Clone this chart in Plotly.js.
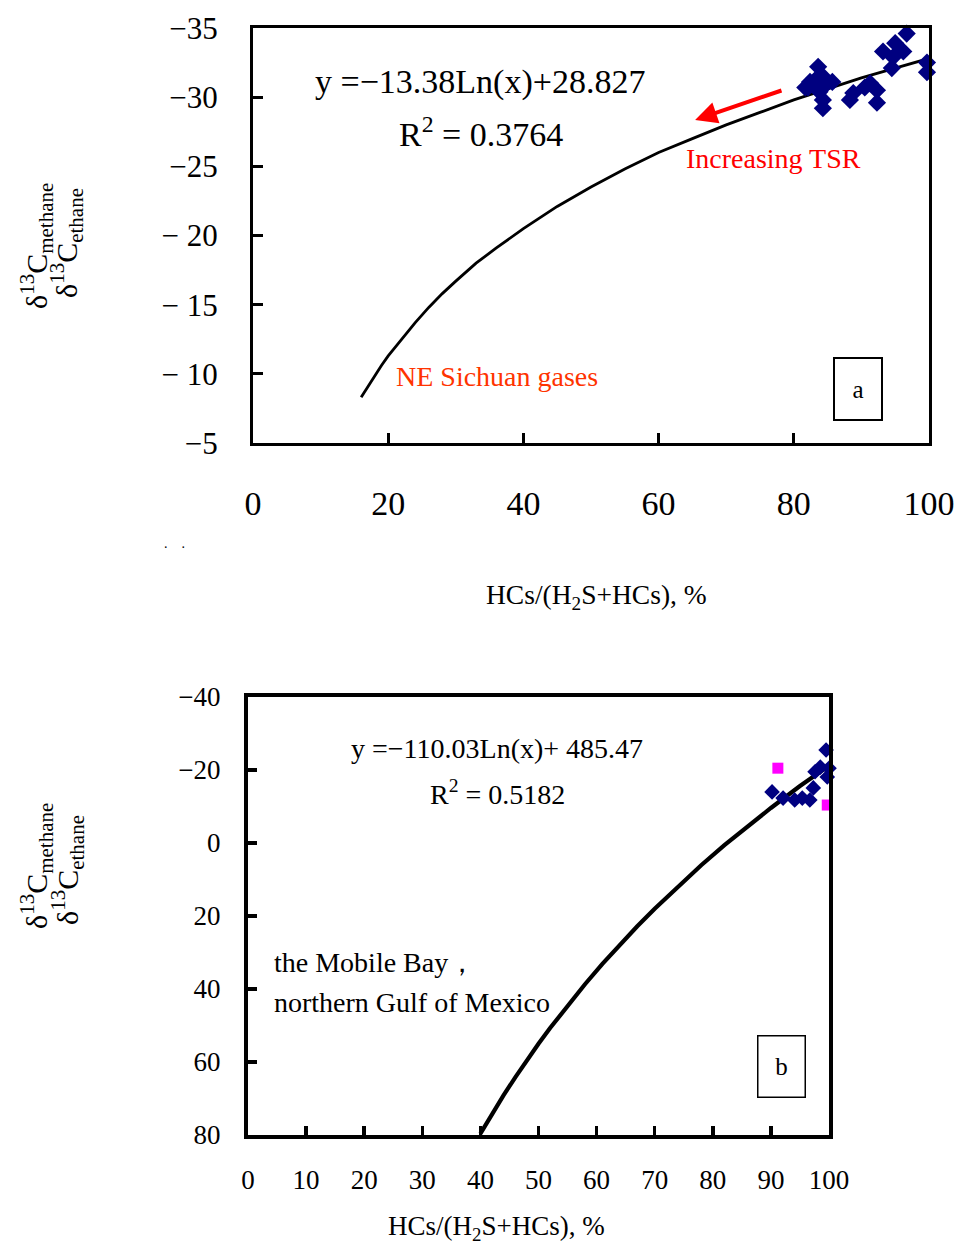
<!DOCTYPE html>
<html>
<head>
<meta charset="utf-8">
<script src="https://cdn.plot.ly/plotly-3.0.1.min.js"></script>
<style>html,body{margin:0;padding:0;background:#fff;}#chart{width:963px;height:1247px;}</style>
</head>
<body>
<div id="chart"></div>
<script>
// ---- Panel a: NE Sichuan gases ----
const aPointsX = [81.7, 82.1, 82.4, 83.1, 83.6, 83.8, 84.3, 84.3, 84.3, 84.3, 85.7, 88.3, 88.8, 90.5, 91.3, 92.3, 92.3, 93.2, 94.5, 94.7, 95.0, 96.2, 96.7, 99.7, 99.7];
const aPointsY = [-30.7, -30.7, -31.1, -31.2, -32.2, -30.4, -31.5, -30.7, -29.8, -29.2, -31.1, -29.8, -30.3, -30.7, -31.0, -30.5, -29.6, -33.3, -32.1, -32.9, -33.9, -33.3, -34.6, -32.5, -31.8];
const aCurveX = [16, 17, 18, 19, 20, 22, 24, 26, 28, 30, 33, 36, 40, 45, 50, 55, 60, 65, 70, 75, 80, 85, 90, 95, 100];
const aCurveY = [-8.3, -9.1, -9.9, -10.6, -11.3, -12.5, -13.7, -14.8, -15.8, -16.7, -18.0, -19.1, -20.5, -22.1, -23.5, -24.8, -26.0, -27.0, -28.0, -28.9, -29.8, -30.6, -31.4, -32.1, -32.8];
const aYTickVals = [-35, -30, -25, -20, -15, -10, -5];
const aYTickText = ["\u221235", "\u221230", "\u221225", "\u2212 20", "\u2212 15", "\u2212 10", "\u22125"];
const aXTickVals = [0, 20, 40, 60, 80, 100];

// ---- Panel b: Mobile Bay, northern Gulf of Mexico ----
const bBlueX = [90.2, 92.1, 94.1, 95.4, 96.7, 97.3, 97.6, 98.5, 99.5, 99.7, 100];
const bBlueY = [-14.0, -12.3, -11.8, -12.3, -11.8, -15.1, -19.5, -20.8, -25.5, -18.1, -20.5];
const bPinkX = [91.2, 99.7];
const bPinkY = [-20.5, -10.4];
const bCurveX = [40, 42, 44, 46, 48, 50, 52, 55, 58, 61, 64, 67, 70, 74, 78, 82, 86, 90, 95, 100];
const bCurveY = [79.6, 74.2, 69.1, 64.2, 59.5, 55.0, 50.7, 44.5, 38.7, 33.1, 27.9, 22.8, 18.0, 11.9, 6.1, 0.6, -4.6, -9.6, -15.6, -21.2];
const bYTickVals = [-40, -20, 0, 20, 40, 60, 80];
const bYTickText = ["\u221240", "\u221220", "0", "20", "40", "60", "80"];
const bXTickVals = [0, 10, 20, 30, 40, 50, 60, 70, 80, 90, 100];

const W = 963, H = 1247;
const px = v => v / W;
const py = v => 1 - v / H;
const serif = "Liberation Serif";

const traces = [
  {x: aCurveX, y: aCurveY, xaxis: 'x', yaxis: 'y', mode: 'lines', line: {color: '#000', width: 2.8}, hoverinfo: 'skip'},
  {x: aPointsX, y: aPointsY, xaxis: 'x', yaxis: 'y', mode: 'markers', cliponaxis: false,
   marker: {symbol: 'diamond', size: 14, color: '#000080'}},
  {x: bCurveX, y: bCurveY, xaxis: 'x2', yaxis: 'y2', mode: 'lines', line: {color: '#000', width: 4.2}, hoverinfo: 'skip'},
  {x: bBlueX, y: bBlueY, xaxis: 'x2', yaxis: 'y2', mode: 'markers', cliponaxis: false,
   marker: {symbol: 'diamond', size: 12, color: '#000080'}},
  {x: bPinkX, y: bPinkY, xaxis: 'x2', yaxis: 'y2', mode: 'markers', cliponaxis: false,
   marker: {symbol: 'square', size: 11, color: '#ff00ff'}}
];

const axisCommon = {showgrid: false, zeroline: false, showline: true, mirror: true, linecolor: '#000',
  ticks: 'inside', tickcolor: '#000', fixedrange: true};

const layout = {
  width: W, height: H, showlegend: false,
  margin: {l: 0, r: 0, t: 0, b: 0},
  paper_bgcolor: '#fff', plot_bgcolor: '#fff',
  font: {family: serif, color: '#000'},
  xaxis: Object.assign({}, axisCommon, {domain: [px(253), px(929)], range: [0, 100], anchor: 'y',
    tickvals: aXTickVals, linewidth: 3, tickwidth: 3, ticklen: 10,
    tickfont: {family: serif, size: 34}, ticklabelstandoff: 28}),
  yaxis: Object.assign({}, axisCommon, {domain: [py(443), py(28)], range: [-5, -35], anchor: 'x',
    tickvals: aYTickVals, ticktext: aYTickText, linewidth: 3, tickwidth: 3, ticklen: 10,
    tickfont: {family: serif, size: 31}, ticklabelstandoff: 26}),
  xaxis2: Object.assign({}, axisCommon, {domain: [px(248), px(829)], range: [0, 100], anchor: 'y2',
    tickvals: bXTickVals, linewidth: 4, tickwidth: 3.5, ticklen: 9,
    tickfont: {family: serif, size: 27}, ticklabelstandoff: 18}),
  yaxis2: Object.assign({}, axisCommon, {domain: [py(1135), py(697)], range: [80, -40], anchor: 'x2',
    tickvals: bYTickVals, ticktext: bYTickText, linewidth: 4, tickwidth: 3.5, ticklen: 9,
    tickfont: {family: serif, size: 27}, ticklabelstandoff: 18}),
  annotations: [
    // panel a texts
    {xref: 'paper', yref: 'paper', x: px(480), y: py(82), text: 'y =\u221213.38Ln(x)+28.827', showarrow: false,
     font: {family: serif, size: 34}, xanchor: 'center', yanchor: 'middle'},
    {xref: 'paper', yref: 'paper', x: px(481), y: py(132), text: 'R<sup>2</sup> = 0.3764', showarrow: false,
     font: {family: serif, size: 34}, xanchor: 'center', yanchor: 'middle'},
    {xref: 'paper', yref: 'paper', x: px(684), y: py(158), text: 'Increasing TSR', showarrow: false,
     font: {family: serif, size: 28, color: '#ff0000'}, xanchor: 'left', yanchor: 'middle'},
    {xref: 'paper', yref: 'paper', x: px(394), y: py(376), text: 'NE Sichuan gases', showarrow: false,
     font: {family: serif, size: 28, color: '#ff3300'}, xanchor: 'left', yanchor: 'middle'},
    {xref: 'paper', yref: 'paper', x: px(858), y: py(389), text: 'a', showarrow: false,
     font: {family: serif, size: 25}, xanchor: 'center', yanchor: 'middle',
     bordercolor: '#000', borderwidth: 2, width: 44, height: 58, bgcolor: '#fff'},
    {xref: 'x', yref: 'y', x: 65.4, y: -28.35, ax: 78.4, ay: -30.52, axref: 'x', ayref: 'y',
     text: '', showarrow: true, arrowhead: 2, arrowsize: 1.1, arrowwidth: 4, arrowcolor: '#ff0000'},
    {xref: 'paper', yref: 'paper', x: px(596), y: py(597), text: 'HCs/(H<sub>2</sub>S+HCs), %', showarrow: false,
     font: {family: serif, size: 27.5}, xanchor: 'center', yanchor: 'middle'},
    {xref: 'paper', yref: 'paper', x: px(174), y: py(543), text: '.&nbsp;&nbsp;&nbsp;&nbsp;.', showarrow: false,
     font: {family: serif, size: 14}, xanchor: 'center', yanchor: 'middle'},
    {xref: 'paper', yref: 'paper', x: px(36), y: py(246), text: '\u03b4<sup>13</sup>C<sub>methane</sub>', showarrow: false,
     textangle: -90, font: {family: serif, size: 30}, xanchor: 'center', yanchor: 'middle'},
    {xref: 'paper', yref: 'paper', x: px(67), y: py(243), text: '\u03b4<sup>13</sup>C<sub>ethane</sub>', showarrow: false,
     textangle: -90, font: {family: serif, size: 30}, xanchor: 'center', yanchor: 'middle'},
    // panel b texts
    {xref: 'paper', yref: 'paper', x: px(497), y: py(748), text: 'y =\u2212110.03Ln(x)+ 485.47', showarrow: false,
     font: {family: serif, size: 28}, xanchor: 'center', yanchor: 'middle'},
    {xref: 'paper', yref: 'paper', x: px(498), y: py(792), text: 'R<sup>2</sup> = 0.5182', showarrow: false,
     font: {family: serif, size: 28}, xanchor: 'center', yanchor: 'middle'},
    {xref: 'paper', yref: 'paper', x: px(272), y: py(962), text: 'the Mobile Bay\uff0c', showarrow: false,
     font: {family: serif, size: 28}, xanchor: 'left', yanchor: 'middle'},
    {xref: 'paper', yref: 'paper', x: px(272), y: py(1003), text: 'northern Gulf of Mexico', showarrow: false,
     font: {family: serif, size: 28}, xanchor: 'left', yanchor: 'middle'},
    {xref: 'paper', yref: 'paper', x: px(781), y: py(1066), text: 'b', showarrow: false,
     font: {family: serif, size: 25}, xanchor: 'center', yanchor: 'middle',
     bordercolor: '#000', borderwidth: 1.5, width: 44, height: 58, bgcolor: '#fff'},
    {xref: 'paper', yref: 'paper', x: px(496), y: py(1228), text: 'HCs/(H<sub>2</sub>S+HCs), %', showarrow: false,
     font: {family: serif, size: 27}, xanchor: 'center', yanchor: 'middle'},
    {xref: 'paper', yref: 'paper', x: px(36), y: py(866), text: '\u03b4<sup>13</sup>C<sub>methane</sub>', showarrow: false,
     textangle: -90, font: {family: serif, size: 30}, xanchor: 'center', yanchor: 'middle'},
    {xref: 'paper', yref: 'paper', x: px(67), y: py(870), text: '\u03b4<sup>13</sup>C<sub>ethane</sub>', showarrow: false,
     textangle: -90, font: {family: serif, size: 30}, xanchor: 'center', yanchor: 'middle'}
  ]
};

Plotly.newPlot('chart', traces, layout, {staticPlot: true, displayModeBar: false});
</script>
</body>
</html>
